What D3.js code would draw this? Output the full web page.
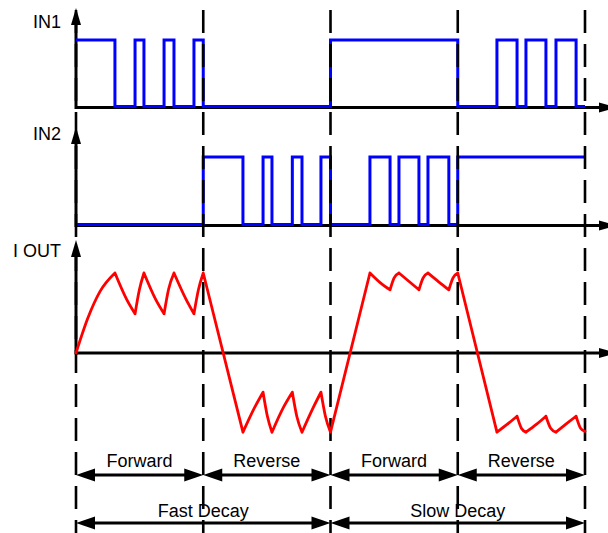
<!DOCTYPE html>
<html>
<head>
<meta charset="utf-8">
<script src="https://cdn.jsdelivr.net/npm/d3@7"></script>
<style>
  html, body { margin: 0; padding: 0; background: #fff; }
  svg { display: block; }
  text { font-family: "Liberation Sans", Arial, sans-serif; font-size: 18px; fill: #000; }
</style>
</head>
<body>
<div id="chart"></div>
<script>
// ---------- data ----------
const phaseBounds = [0, 100, 200, 300, 400];
const phaseLabels = ["Forward", "Reverse", "Forward", "Reverse"];
const decayLabels = ["Fast Decay", "Slow Decay"];
const decayBounds = [[0, 200], [200, 400]];
const signalNames = ["IN1", "IN2", "I OUT"];

// digital inputs: [time, level] (step after)
const in1 = [[0,1],[30.6,0],[46.4,1],[53.4,0],[69.2,1],[77,0],[92.7,1],[100,0],
             [200,1],[300,0],[330.8,1],[346.6,0],[353.6,1],[369.3,0],[377.2,1],[393,0],[400,0]];
const in2 = [[0,0],[100,1],[131.2,0],[147,1],[154,0],[170,1],[177.6,0],[192.5,1],[200,0],
             [231,1],[246.8,0],[253.8,1],[269.5,0],[276.6,1],[293,0],[300,1],[400,1]];

// output current, piecewise segments of [time, current]
const ioutSegments = [
  [[0,0],[9.4,0.44],[18.9,0.77],[30.6,1]],
  [[30.6,1],[39.8,0.67],[46.4,0.49]],
  [[46.4,0.49],[49.8,0.79],[53.4,1]],
  [[53.4,1],[62.6,0.67],[69.2,0.49]],
  [[69.2,0.49],[72.8,0.8],[77,1]],
  [[77,1],[86.5,0.67],[92.7,0.49]],
  [[92.7,0.49],[96.2,0.79],[100,1]],
  [[100,1],[131.2,-0.99]],
  [[131.2,-0.99],[140.4,-0.68],[147,-0.49]],
  [[147,-0.49],[150.4,-0.79],[154,-0.99]],
  [[154,-0.99],[163,-0.68],[170,-0.49]],
  [[170,-0.49],[173.5,-0.79],[177.6,-0.99]],
  [[177.6,-0.99],[186.5,-0.68],[192.5,-0.49]],
  [[192.5,-0.49],[196,-0.79],[200,-0.99]],
  [[200,-0.99],[231,1]],
  [[231,1],[239,0.88],[246.8,0.79]],
  [[246.8,0.79],[250,0.94],[253.8,1]],
  [[253.8,1],[262,0.89],[269.5,0.79]],
  [[269.5,0.79],[272.8,0.94],[276.6,1]],
  [[276.6,1],[285,0.89],[293,0.79]],
  [[293,0.79],[296.3,0.94],[300,1]],
  [[300,1],[330.8,-0.99]],
  [[330.8,-0.99],[339,-0.89],[346.6,-0.79]],
  [[346.6,-0.79],[350,-0.94],[353.6,-0.99]],
  [[353.6,-0.99],[362,-0.89],[369.3,-0.79]],
  [[369.3,-0.79],[373,-0.94],[377.2,-0.99]],
  [[377.2,-0.99],[385,-0.89],[393,-0.79]],
  [[393,-0.79],[396.5,-0.94],[400,-0.98]]
];

// ---------- layout ----------
const W = 608, H = 533;
const svg = d3.select("#chart").append("svg").attr("width", W).attr("height", H);

const x = d3.scaleLinear().domain([0, 400]).range([76, 585]);
const yIn1 = d3.scaleLinear().domain([0, 1]).range([106.5, 40]);
const yIn2 = d3.scaleLinear().domain([0, 1]).range([224.5, 157]);
const yOut = d3.scaleLinear().domain([-1, 1]).range([433, 273]);

const axisX0 = x(0);
const axisRows = [
  { name: signalNames[0], base: 107.5, top: 8, labelY: 22 },
  { name: signalNames[1], base: 225.5, top: 127, labelY: 134 },
  { name: signalNames[2], base: yOut(0), top: 240, labelY: 251 }
];

function tri(g, pts) {
  g.append("path").attr("d", "M" + pts.map(p => p.join(",")).join("L") + "Z").attr("fill", "#000");
}

const stepLine = (ys) => d3.line().x(d => x(d[0])).y(d => ys(d[1])).curve(d3.curveStepAfter);

// axes
const axes = svg.append("g");
axisRows.forEach(r => {
  axes.append("line").attr("x1", axisX0).attr("x2", 600).attr("y1", r.base).attr("y2", r.base)
    .attr("stroke", "#000").attr("stroke-width", 3);
  tri(axes, [[599, r.base - 5], [617, r.base], [599, r.base + 5]]);
  axes.append("line").attr("x1", axisX0).attr("x2", axisX0).attr("y1", r.base + 1.5).attr("y2", r.top + 14)
    .attr("stroke", "#000").attr("stroke-width", 3);
  tri(axes, [[axisX0 - 5, r.top + 17], [axisX0, r.top], [axisX0 + 5, r.top + 17]]);
  axes.append("text").attr("x", 61).attr("y", r.labelY).attr("dy", "0.35em")
    .attr("text-anchor", "end").text(r.name);
});

// digital traces (under the dashed lines)
svg.append("path").datum(in1).attr("d", stepLine(yIn1))
  .attr("fill", "none").attr("stroke", "#0000ff").attr("stroke-width", 3);
svg.append("path").datum(in2).attr("d", stepLine(yIn2))
  .attr("fill", "none").attr("stroke", "#0000ff").attr("stroke-width", 3);

// dashed phase boundaries
svg.append("g").selectAll("line").data(phaseBounds).join("line")
  .attr("x1", d => x(d)).attr("x2", d => x(d))
  .attr("y1", 10).attr("y2", H)
  .attr("stroke", "#000").attr("stroke-width", 2.6)
  .attr("stroke-dasharray", "23,11");

// output current
const curLine = d3.line().x(d => x(d[0])).y(d => yOut(d[1])).curve(d3.curveMonotoneX);
svg.append("path")
  .attr("d", ioutSegments.map(s => curLine(s)).join(""))
  .attr("fill", "none").attr("stroke", "#ff0000").attr("stroke-width", 2.8)
  .attr("stroke-linecap", "round").attr("stroke-linejoin", "round");

// annotation arrows
function dimArrow(g, x1, x2, y) {
  g.append("line").attr("x1", x1 + 10).attr("x2", x2 - 10).attr("y1", y).attr("y2", y)
    .attr("stroke", "#000").attr("stroke-width", 3);
  tri(g, [[x1 + 19, y - 6.5], [x1, y], [x1 + 19, y + 6.5]]);
  tri(g, [[x2 - 19, y - 6.5], [x2, y], [x2 - 19, y + 6.5]]);
}
const ann = svg.append("g");
phaseLabels.forEach((lab, i) => {
  const a = x(phaseBounds[i]), b = x(phaseBounds[i + 1]);
  dimArrow(ann, a, b, 475);
  ann.append("text").attr("x", (a + b) / 2).attr("y", 467).attr("text-anchor", "middle").text(lab);
});
decayLabels.forEach((lab, i) => {
  const a = x(decayBounds[i][0]), b = x(decayBounds[i][1]);
  dimArrow(ann, a, b, 523);
  ann.append("text").attr("x", (a + b) / 2).attr("y", 517).attr("text-anchor", "middle").text(lab);
});
</script>
</body>
</html>
